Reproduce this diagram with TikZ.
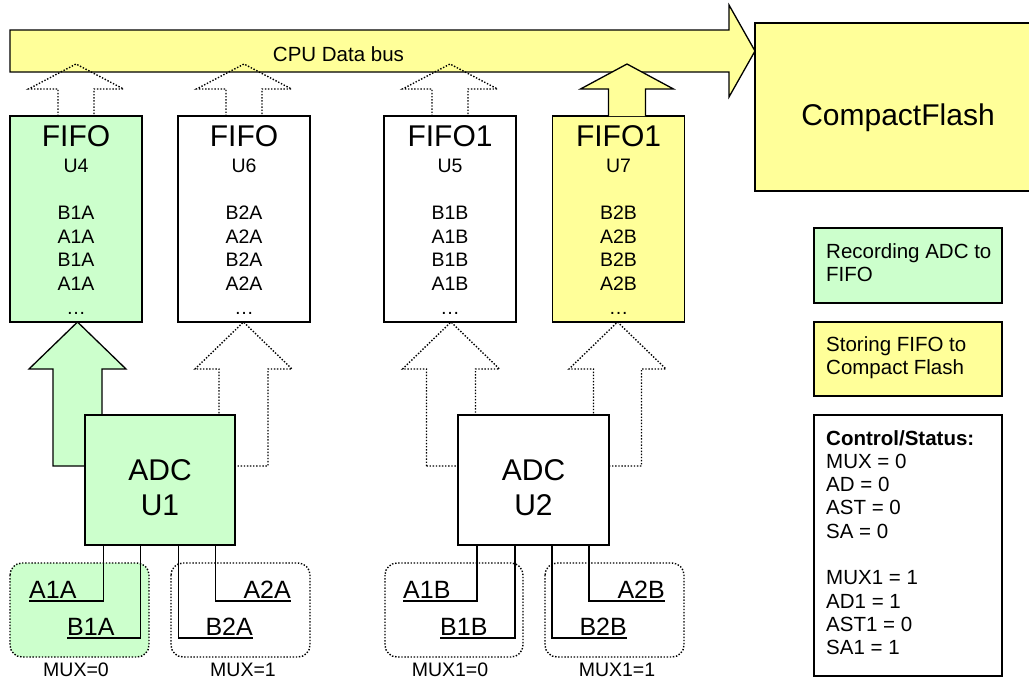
\documentclass[tikz,border=0pt]{standalone}
\usepackage{fontspec}
\setmainfont{Liberation Sans}
\definecolor{recgreen}{HTML}{CCFFCC}
\definecolor{storeyellow}{HTML}{FFFF99}
\tikzset{
  box/.style={draw, line width=1.3pt, inner sep=0pt},
  dotline/.style={line width=1.4pt, dash pattern=on 1.4pt off 1.7pt},
  solidarrow/.style={draw, line width=1.3pt, line join=miter},
  wire/.style={line width=1.3pt},
  muxgroup/.style={dotline, rounded corners=12pt},
  bigtxt/.style={font=\fontsize{30}{34}\selectfont, inner sep=0pt},
  midtxt/.style={font=\fontsize{20.5}{23.4}\selectfont, inner sep=0pt},
  smalltxt/.style={font=\fontsize{19.5}{23.5}\selectfont, inner sep=0pt},
  pintxt/.style={font=\fontsize{25}{28}\selectfont, inner sep=0pt},
  legendtxt/.style={font=\fontsize{20.5}{23.3}\selectfont, inner sep=0pt, align=left, anchor=north west},
}
% upward block arrow: style, centre x, tip y, head base y, foot y, half shaft, half head, closing
\newcommand\blockup[8]{%
  \draw[#1] (#2-#6,#5) -- (#2-#6,#4) -- (#2-#7,#4) -- (#2,#3)
    -- (#2+#7,#4) -- (#2+#6,#4) -- (#2+#6,#5) #8;}
% FIFO chip: name, centre x, fill, title, unit, four data lines
\newcommand\fifochip[9]{%
  \node[box, fill=#3, minimum width=132pt, minimum height=206pt] (#1) at (#2,219) {};
  \node[bigtxt, anchor=base] (#1-title) at (#2,146.5) {#4};
  \node[smalltxt, anchor=base] (#1-unit) at (#2,172.5) {#5};
  \node[smalltxt, anchor=base] (#1-d1) at (#2,219.8) {#6};
  \node[smalltxt, anchor=base] (#1-d2) at (#2,243.3) {#7};
  \node[smalltxt, anchor=base] (#1-d3) at (#2,266.8) {#8};
  \node[smalltxt, anchor=base] (#1-d4) at (#2,290.3) {#9};
  \node[smalltxt, anchor=base] (#1-more) at (#2,314.5) {\textellipsis};}
\begin{document}
\begin{tikzpicture}[x=1pt, y=-1pt]
\useasboundingbox (0,0) rectangle (1029,681);

% CPU data bus
\draw[solidarrow, fill=storeyellow] (10,30) -- (729,30) -- (729,5) -- (755,51)
  -- (729,97) -- (729,72) -- (10,72) -- cycle;
\node[midtxt, anchor=base] (buslbl) at (338.5,61) {CPU Data bus};

% CompactFlash card
\node[box, fill=storeyellow, minimum width=280pt, minimum height=168pt] (cf) at (895,107) {};
\node[bigtxt, anchor=base] (cflbl) at (898,125) {CompactFlash};

% FIFO chips
\fifochip{fifoU4}{76}{recgreen}{FIFO}{U4}{B1A}{A1A}{B1A}{A1A}
\fifochip{fifoU6}{244}{white}{FIFO}{U6}{B2A}{A2A}{B2A}{A2A}
\fifochip{fifoU5}{450}{white}{FIFO1}{U5}{B1B}{A1B}{B1B}{A1B}
\fifochip{fifoU7}{618.5}{storeyellow}{FIFO1}{U7}{B2B}{A2B}{B2B}{A2B}

% FIFO to bus transfers
\blockup{dotline}{76}{64}{89}{116}{18}{47.5}{}
\blockup{dotline}{244}{64}{89}{116}{18}{47.5}{}
\blockup{dotline}{450}{64}{89}{116}{18}{47.5}{}
\blockup{solidarrow, fill=storeyellow}{627}{64}{89}{116}{18.5}{46.5}{}

% ADC to FIFO transfers
\blockup{solidarrow, fill=recgreen}{77.5}{322}{369}{466}{24.5}{48.5}{-- cycle}
\blockup{dotline}{243.5}{322}{369}{466}{24.5}{48.5}{-- cycle}
\blockup{dotline}{451}{322}{369}{466}{24.5}{48.5}{-- cycle}
\blockup{dotline}{617.5}{322}{369}{466}{24}{48.5}{-- cycle}

% converters
\node[box, fill=recgreen, minimum width=150pt, minimum height=130pt] (adcU1) at (160,480) {};
\node[bigtxt, anchor=base] (adcU1-name) at (160,480) {ADC};
\node[bigtxt, anchor=base] (adcU1-unit) at (160,515) {U1};
\node[box, fill=white, minimum width=151pt, minimum height=130pt] (adcU2) at (533.5,480) {};
\node[bigtxt, anchor=base] (adcU2-name) at (533.5,480) {ADC};
\node[bigtxt, anchor=base] (adcU2-unit) at (533.5,515) {U2};

% multiplexer groups
\draw[muxgroup, fill=recgreen] (10,563) rectangle (149,657);
\draw[muxgroup] (171,563) rectangle (310,657);
\draw[muxgroup] (385,563) rectangle (523,657);
\draw[muxgroup] (545,563) rectangle (684,657);
\node[smalltxt, anchor=base] (muxA0) at (76,676) {MUX=0};
\node[smalltxt, anchor=base] (muxA1) at (243,676) {MUX=1};
\node[smalltxt, anchor=base] (muxB0) at (450,676) {MUX1=0};
\node[smalltxt, anchor=base] (muxB1) at (617,676) {MUX1=1};

% analogue inputs
\node[pintxt, anchor=base west] (a1a) at (29,598) {A1A};
\node[pintxt, anchor=base west] (b1a) at (67,635.5) {B1A};
\node[pintxt, anchor=base east] (b2a) at (253,635.5) {B2A};
\node[pintxt, anchor=base east] (a2a) at (291,598) {A2A};
\node[pintxt, anchor=base west] (a1b) at (403,598) {A1B};
\node[pintxt, anchor=base west] (b1b) at (440,635.5) {B1B};
\node[pintxt, anchor=base east] (b2b) at (627,635.5) {B2B};
\node[pintxt, anchor=base east] (a2b) at (665,598) {A2B};

\draw[wire] ([xshift=19pt]adcU1.south west) |- ([yshift=-3pt]a1a.base west);
\draw[wire] ([xshift=56pt]adcU1.south west) |- ([yshift=-2.5pt]b1a.base west);
\draw[wire] ([xshift=94pt]adcU1.south west) |- ([yshift=-2.5pt]b2a.base east);
\draw[wire] ([xshift=131pt]adcU1.south west) |- ([yshift=-3pt]a2a.base east);
\draw[wire] ([xshift=19.5pt]adcU2.south west) |- ([yshift=-3pt]a1b.base west);
\draw[wire] ([xshift=57.5pt]adcU2.south west) |- ([yshift=-2.5pt]b1b.base west);
\draw[wire] ([xshift=94.5pt]adcU2.south west) |- ([yshift=-2.5pt]b2b.base east);
\draw[wire] ([xshift=131.5pt]adcU2.south west) |- ([yshift=-3pt]a2b.base east);

% legend
\node[box, fill=recgreen, minimum width=188pt, minimum height=75pt] (legrec) at (908,265.5) {};
\node[legendtxt] (legrec-txt) at (826,243) {Recording ADC to\\FIFO};
\node[box, fill=storeyellow, minimum width=188pt, minimum height=74pt] (legstore) at (908,359) {};
\node[legendtxt] (legstore-txt) at (826,336) {Storing FIFO to\\Compact Flash};
\node[box, fill=white, minimum width=188pt, minimum height=261pt] (legstat) at (908,545.5) {};
\node[legendtxt] (legstat-txt) at (826,430) {\textbf{Control/Status:}\\MUX = 0\\AD = 0\\AST = 0\\SA = 0\\[23.3pt]MUX1 = 1\\AD1 = 1\\AST1 = 0\\SA1 = 1};
\end{tikzpicture}
\end{document}
